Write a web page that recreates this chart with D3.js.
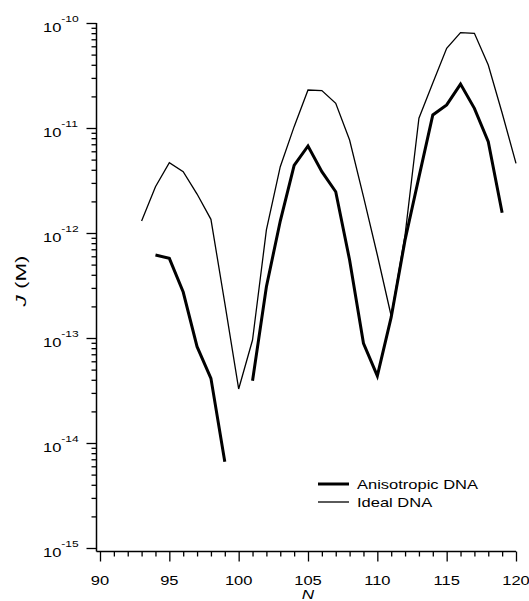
<!DOCTYPE html>
<html>
<head>
<meta charset="utf-8">
<script src="https://cdn.jsdelivr.net/npm/d3@7"></script>
<style>
  body { margin: 0; background: #fff; }
  text { font-family: "Liberation Sans", Arial, sans-serif; fill: #000; }
</style>
</head>
<body>
<svg id="chart" width="529" height="601"></svg>
<script>
// Chain length N
const nValues = [93, 94, 95, 96, 97, 98, 99, 100, 101, 102, 103, 104, 105, 106,
                 107, 108, 109, 110, 111, 112, 113, 114, 115, 116, 117, 118, 119, 120];

// J (M) for the ideal chain
const idealDNA = [1.30e-12, 2.76e-12, 4.67e-12, 3.84e-12, 2.35e-12, 1.35e-12, 2.15e-13,
                  3.27e-14, 9.57e-14, 1.07e-12, 4.28e-12, 1.03e-11, 2.30e-11, 2.27e-11,
                  1.72e-11, 7.69e-12, 2.22e-12, 6.17e-13, 1.62e-13, 9.57e-13, 1.24e-11,
                  2.68e-11, 5.74e-11, 8.09e-11, 7.98e-11, 3.98e-11, 1.39e-11, 4.61e-12];

// J (M) for the anisotropic chain (null where no value)
const anisotropicDNA = [null, 6.17e-13, 5.74e-13, 2.74e-13, 8.26e-14, 4.13e-14, 6.64e-15,
                        null, 3.92e-14, 3.08e-13, 1.30e-12, 4.40e-12, 6.74e-12, 3.84e-12,
                        2.47e-12, 5.53e-13, 8.91e-14, 4.35e-14, 1.58e-13, 8.58e-13, 3.41e-12,
                        1.33e-11, 1.66e-11, 2.62e-11, 1.54e-11, 7.41e-12, 1.56e-12, null];

const xTickLabels = [90, 95, 100, 105, 110, 115, 120];
const yTickExponents = [-10, -11, -12, -13, -14, -15];
const seriesNames = ["Anisotropic DNA", "Ideal DNA"];

const svg = d3.select("#chart");
const stretch = 1.27;

const x = d3.scaleLinear().domain([90, 120]).range([100, 516]);
const y = d3.scaleLog().domain([1e-15, 1e-10]).range([548, 23]);

const axisX0 = 96.5;   // left axis line
const axisY0 = 551.5;  // bottom axis line

// Left axis: major and minor ticks
const yMajor = yTickExponents.map(e => Math.pow(10, e));
const yMinor = [];
for (let e = -15; e < -10; e++) for (let m = 2; m <= 9; m++) yMinor.push(m * Math.pow(10, e));

const gy = svg.append("g").attr("transform", `translate(${axisX0},0)`);
gy.append("g").call(d3.axisLeft(y).tickValues(yMajor).tickSize(10).tickSizeOuter(0).tickFormat(""));
gy.append("g").call(d3.axisLeft(y).tickValues(yMinor).tickSize(5).tickSizeOuter(0).tickFormat(""));

// Bottom axis: major and minor ticks
const xMinor = [];
for (let v = 91; v < 120; v++) if (v % 5 !== 0) xMinor.push(v);
const gx = svg.append("g").attr("transform", `translate(0,${axisY0})`);
gx.append("g").call(d3.axisBottom(x).tickValues(xTickLabels).tickSize(10).tickSizeOuter(0).tickFormat(""));
gx.append("g").call(d3.axisBottom(x).tickValues(xMinor).tickSize(5).tickSizeOuter(0).tickFormat(""));

svg.selectAll(".domain").remove();
svg.selectAll(".tick line").attr("stroke", "#000").attr("stroke-width", 1.3);

svg.append("line").attr("x1", axisX0).attr("x2", axisX0).attr("y1", y(1e-10)).attr("y2", axisY0)
  .attr("stroke", "#000").attr("stroke-width", 1.5);
svg.append("line").attr("x1", axisX0).attr("x2", x(120)).attr("y1", axisY0).attr("y2", axisY0)
  .attr("stroke", "#000").attr("stroke-width", 1.5);

// Tick labels
yTickExponents.forEach(e => {
  const t = svg.append("text")
    .attr("transform", `translate(43,${y(Math.pow(10, e)) + 9}) scale(${stretch},1)`)
    .attr("font-size", 13);
  t.append("tspan").text("10");
  t.append("tspan").attr("font-size", 9.5).attr("dy", -10.5).text(e);
});

xTickLabels.forEach(v => {
  svg.append("text")
    .attr("transform", `translate(${x(v)},585) scale(${stretch},1)`)
    .attr("text-anchor", "middle").attr("font-size", 13).text(v);
});

// Axis titles
svg.append("text")
  .attr("transform", `translate(${x(105)},598.5) scale(${stretch},1)`)
  .attr("text-anchor", "middle").attr("font-size", 13.5).attr("font-style", "italic").text("N");

const yt = svg.append("text")
  .attr("transform", `translate(26,281) rotate(-90) scale(1.45,1)`)
  .attr("text-anchor", "middle").attr("font-size", 15.5);
yt.append("tspan").attr("font-style", "italic").text("J");
yt.append("tspan").text(" (M)");

// Curves
const line = d3.line()
  .defined(d => d[1] != null)
  .x(d => x(d[0]))
  .y(d => y(d[1]));

svg.append("path")
  .datum(nValues.map((n, i) => [n, idealDNA[i]]))
  .attr("fill", "none").attr("stroke", "#000").attr("stroke-width", 1.3)
  .attr("d", line);

svg.append("path")
  .datum(nValues.map((n, i) => [n, anisotropicDNA[i]]))
  .attr("fill", "none").attr("stroke", "#000").attr("stroke-width", 3)
  .attr("d", line);

// Legend
const legend = svg.append("g").attr("transform", "translate(318,484)");
[3, 1.3].forEach((w, i) => {
  legend.append("line").attr("x1", 0).attr("x2", 31).attr("y1", i * 18).attr("y2", i * 18)
    .attr("stroke", "#000").attr("stroke-width", w);
  legend.append("text")
    .attr("transform", `translate(39,${i * 18 + 4.5}) scale(${stretch},1)`)
    .attr("font-size", 13).text(seriesNames[i]);
});
</script>
</body>
</html>
